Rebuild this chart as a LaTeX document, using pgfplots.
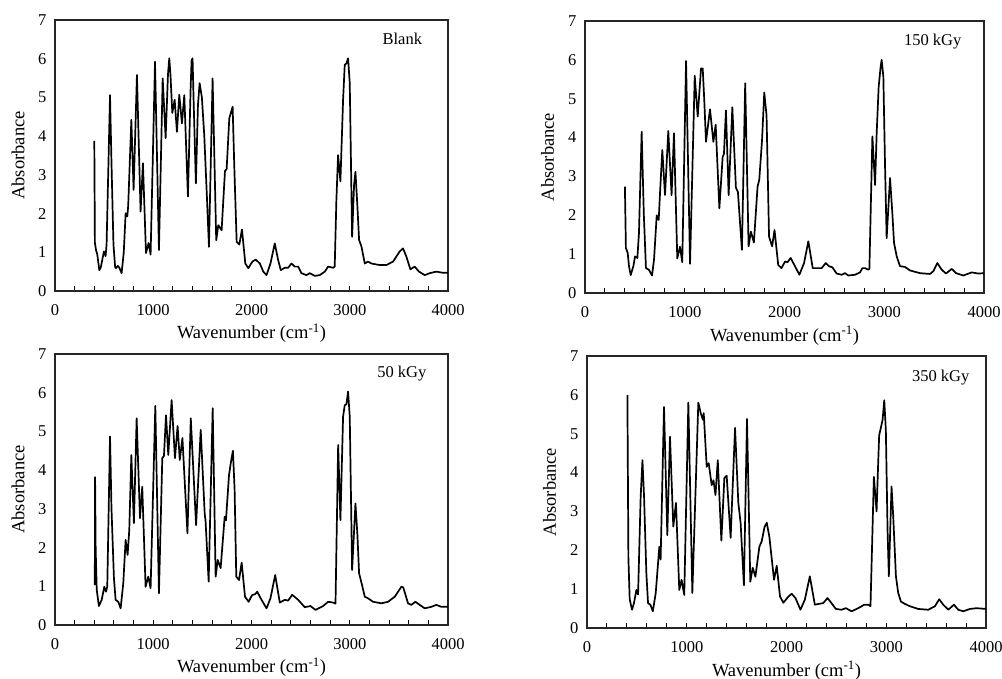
\documentclass[border=0pt]{standalone}
\usepackage{fontspec}
\setmainfont{Liberation Serif}
\usepackage{pgfplots}
\pgfplotsset{compat=1.18}

\pgfplotsset{
  ftir/.style={
    scale only axis, width=393pt, height=271pt,
    xmin=0, xmax=4000, ymin=0, ymax=7,
    xtick={0,1000,...,4000},
    minor xtick={200,400,...,3800},
    ytick={0,...,7},
    xtick pos=bottom, ytick pos=left,
    tick align=inside,
    major tick length=5pt, minor tick length=5pt,
    xtick style={line width=1pt, black},
    ytick style={draw=none},
    /pgf/number format/assume math mode=true,
    /pgf/number format/set thousands separator={},
    tick label style={font=\rmfamily\fontsize{16.5}{18}\selectfont},
    xticklabel style={yshift=-10pt},
    yticklabel style={xshift=-5pt},
    label style={font=\rmfamily\fontsize{18.5}{21}\selectfont},
    xlabel={Wavenumber (cm\textsuperscript{-1})},
    ylabel={Absorbance},
    xlabel style={at={(axis description cs:0.5,-0.157)}, anchor=center},
    ylabel style={at={(axis description cs:-0.094,0.5)}, anchor=center},
    axis line style={line width=1.3pt, black!85},
  },
}
\tikzset{
  tag/.style={anchor=east, font=\rmfamily\fontsize{16.5}{18}\selectfont},
  spec/.style={black, mark=none, line width=1.7pt, line join=round},
}

\begin{document}
\begin{tikzpicture}
\useasboundingbox (0,0) rectangle (1002pt,679pt);

% Blank
\begin{axis}[ftir, at={(55pt,388pt)}, anchor=south west]
\addplot[spec] coordinates {
(400,3.88) (406,1.25) (418,1.05) (430,0.95) (451,0.54) (465,0.6) (498,1.02) (515,0.9) (525,1.2)
(560,5.06) (575,3.3) (595,1.2) (612,0.62) (621,0.59) (640,0.65) (655,0.6) (678,0.46) (700,1.0)
(719,2.01) (736,1.93) (745,2.2) (777,4.42) (800,2.61) (834,5.58) (871,2.05) (895,3.3) (926,0.98)
(953,1.24) (973,0.94) (1018,5.92) (1058,1.06) (1096,5.49) (1126,3.95) (1150,5.6) (1163,6.01)
(1175,5.6) (1194,4.6) (1218,4.94) (1241,4.11) (1265,5.07) (1292,4.33) (1316,5.06) (1353,2.44)
(1380,5.2) (1390,5.95) (1400,6.01) (1410,5.0) (1434,2.78) (1455,4.8) (1472,5.37) (1495,5.0)
(1519,4.03) (1545,2.5) (1567,1.14) (1604,5.49) (1641,1.31) (1662,1.7) (1696,1.57) (1730,3.1)
(1747,3.15) (1774,4.46) (1790,4.6) (1808,4.76) (1825,3.2) (1849,1.27) (1876,1.2) (1903,1.59)
(1937,0.71) (1968,0.59) (2009,0.76) (2043,0.81) (2085,0.71) (2120,0.5) (2153,0.41) (2193,0.71)
(2237,1.23) (2271,0.8) (2298,0.54) (2339,0.6) (2373,0.6) (2407,0.71) (2441,0.63) (2475,0.63)
(2508,0.46) (2559,0.41) (2593,0.46) (2644,0.39) (2695,0.41) (2746,0.5) (2780,0.63) (2831,0.6)
(2847,0.63) (2864,2.35) (2881,3.51) (2905,2.83) (2932,4.93) (2949,5.84) (2966,5.88) (2983,6.01)
(3000,5.37) (3024,1.4) (3044,2.74) (3058,3.08) (3078,2.18) (3095,1.32) (3119,1.15) (3153,0.71)
(3186,0.76) (3220,0.71) (3305,0.67) (3373,0.67) (3441,0.76) (3508,1.02) (3542,1.1) (3576,0.89)
(3617,0.56) (3661,0.63) (3705,0.5) (3763,0.41) (3814,0.46) (3881,0.5) (3949,0.47) (4000,0.47)
};
\node[tag] at (rel axis cs:0.943,0.93) {Blank};
\end{axis}

% 150 kGy
\begin{axis}[ftir, width=399pt, height=272pt, at={(585pt,386pt)}, anchor=south west]
\addplot[spec] coordinates {
(400,2.74) (410,1.16) (428,1.03) (441,0.69) (458,0.46) (485,0.69) (501,0.94) (525,0.9) (541,1.54)
(568,4.15) (590,2.0) (611,0.64) (640,0.6) (672,0.45) (692,0.86) (719,2.0) (739,1.88) (752,2.57)
(775,3.68) (802,2.52) (835,4.17) (868,2.52) (892,4.11) (925,0.89) (952,1.19) (975,0.79)
(1013,5.97) (1053,0.75) (1100,5.59) (1130,4.54) (1163,5.78) (1180,5.78) (1195,5.0) (1213,3.89)
(1253,4.73) (1287,3.89) (1310,4.33) (1347,2.18) (1380,3.5) (1393,3.58) (1413,4.7) (1440,2.52)
(1477,4.78) (1513,2.71) (1533,2.6) (1573,1.11) (1606,5.4) (1640,1.2) (1663,1.58) (1693,1.3)
(1730,2.74) (1747,2.91) (1775,3.94) (1797,5.16) (1820,4.57) (1845,1.45) (1876,1.2) (1900,1.62)
(1937,0.72) (1970,0.64) (2005,0.81) (2029,0.79) (2062,0.9) (2105,0.69) (2149,0.47) (2196,0.77)
(2239,1.33) (2283,0.64) (2323,0.64) (2373,0.64) (2413,0.77) (2446,0.69) (2480,0.66) (2523,0.5)
(2573,0.47) (2607,0.51) (2640,0.45) (2707,0.47) (2757,0.53) (2781,0.64) (2807,0.64) (2841,0.6)
(2851,0.62) (2881,4.03) (2908,2.78) (2924,4.11) (2944,5.31) (2964,5.83) (2974,6.0) (2991,5.57)
(3008,3.26) (3024,1.41) (3058,2.96) (3081,2.06) (3098,1.29) (3125,0.94) (3158,0.69) (3208,0.67)
(3258,0.58) (3359,0.51) (3459,0.49) (3492,0.56) (3532,0.77) (3576,0.6) (3619,0.5) (3676,0.62)
(3720,0.51) (3793,0.45) (3877,0.53) (3944,0.5) (4000,0.51)
};
\node[tag] at (rel axis cs:0.952,0.923) {150 kGy};
\end{axis}

% 50 kGy
\begin{axis}[ftir, at={(55pt,54pt)}, anchor=south west]
\addplot[spec] coordinates {
(405,1.03) (408,3.82) (414,1.95) (425,0.9) (447,0.49) (475,0.65) (502,0.99) (519,0.86) (532,0.99)
(560,4.87) (575,3.0) (600,1.2) (617,0.65) (644,0.6) (668,0.43) (695,1.08) (719,2.2) (739,1.81)
(756,2.45) (777,4.39) (803,2.63) (831,5.34) (865,2.76) (888,3.57) (922,0.99) (949,1.25) (973,0.95)
(1021,5.66) (1058,0.82) (1092,4.31) (1109,4.37) (1130,5.42) (1153,4.39) (1187,5.81) (1221,4.31)
(1248,5.14) (1270,4.26) (1297,4.83) (1348,2.37) (1382,5.34) (1436,2.58) (1483,5.04) (1524,2.86)
(1532,2.71) (1564,1.12) (1605,5.6) (1635,1.25) (1656,1.68) (1686,1.47) (1727,2.8) (1740,2.7)
(1771,3.87) (1790,4.2) (1811,4.5) (1828,3.5) (1845,1.25) (1873,1.16) (1900,1.61) (1934,0.73)
(1971,0.6) (2005,0.77) (2039,0.8) (2058,0.86) (2102,0.65) (2153,0.43) (2193,0.69) (2241,1.29)
(2288,0.58) (2339,0.65) (2373,0.63) (2414,0.78) (2475,0.65) (2542,0.46) (2600,0.49) (2651,0.39)
(2729,0.49) (2780,0.6) (2831,0.58) (2855,0.55) (2882,4.65) (2905,2.71) (2932,5.38) (2949,5.68)
(2966,5.7) (2983,6.03) (3000,5.38) (3024,1.42) (3058,3.14) (3078,2.33) (3095,1.34) (3129,0.99)
(3153,0.73) (3186,0.69) (3237,0.6) (3322,0.56) (3390,0.6) (3458,0.73) (3526,0.99) (3545,0.97)
(3593,0.56) (3627,0.52) (3668,0.6) (3712,0.52) (3763,0.43) (3831,0.47) (3881,0.52) (3932,0.47)
(4000,0.47)
};
\node[tag] at (rel axis cs:0.954,0.926) {50 kGy};
\end{axis}

% 350 kGy
\begin{axis}[ftir, width=399pt, height=272pt, at={(587pt,51pt)}, anchor=south west]
\addplot[spec] coordinates {
(405,5.99) (415,1.8) (428,0.74) (451,0.47) (471,0.64) (495,0.98) (512,0.86) (538,3.38) (556,4.32)
(572,3.38) (595,1.41) (612,0.64) (635,0.6) (660,0.43) (689,0.9) (725,2.09) (738,1.76) (772,5.69)
(805,2.39) (832,4.92) (865,2.61) (892,3.22) (925,0.98) (948,1.24) (975,0.85) (1016,5.8) (1056,0.9)
(1116,5.8) (1140,5.53) (1162,5.36) (1170,5.53) (1200,4.15) (1220,4.24) (1250,3.68) (1268,3.8)
(1288,3.42) (1311,4.32) (1347,2.25) (1377,3.86) (1400,3.92) (1440,2.32) (1484,5.15) (1517,3.22)
(1540,2.7) (1573,1.1) (1604,5.38) (1637,1.19) (1661,1.55) (1688,1.32) (1728,2.09) (1751,2.23)
(1780,2.6) (1802,2.71) (1828,2.35) (1875,1.24) (1902,1.6) (1935,0.81) (1969,0.65) (2019,0.81)
(2052,0.88) (2090,0.77) (2140,0.47) (2184,0.73) (2234,1.33) (2284,0.6) (2324,0.62) (2368,0.64)
(2411,0.77) (2451,0.64) (2495,0.49) (2552,0.47) (2595,0.51) (2652,0.43) (2719,0.51) (2779,0.6)
(2819,0.6) (2842,0.56) (2876,3.89) (2903,3.0) (2919,4.24) (2929,4.96) (2963,5.35) (2980,5.86)
(2996,5.09) (3013,2.52) (3026,1.33) (3053,3.64) (3070,2.87) (3097,1.33) (3120,0.9) (3147,0.68)
(3187,0.62) (3237,0.56) (3321,0.49) (3421,0.47) (3488,0.56) (3531,0.74) (3571,0.6) (3622,0.47)
(3678,0.6) (3722,0.47) (3772,0.43) (3839,0.49) (3906,0.51) (4000,0.49)
};
\node[tag] at (rel axis cs:0.967,0.92) {350 kGy};
\end{axis}
\end{tikzpicture}
\end{document}
